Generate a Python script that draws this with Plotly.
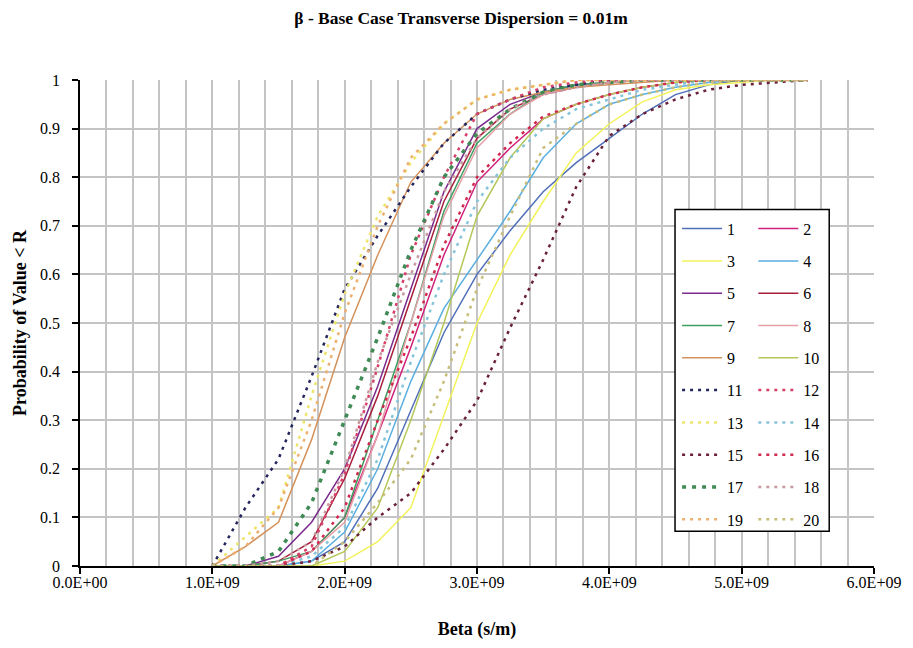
import plotly.graph_objects as go

# Beta values (s/m) shared by every realisation
BETA = [1.0e9, 1.25e9, 1.5e9, 1.75e9, 2.0e9, 2.25e9, 2.5e9, 2.75e9, 3.0e9, 3.25e9,
        3.5e9, 3.75e9, 4.0e9, 4.25e9, 4.5e9, 4.75e9, 5.0e9, 5.25e9, 5.5e9]

# Cumulative probability for each realisation
CDF_1 = [0, 0, 0, 0.01, 0.05, 0.16, 0.32, 0.48, 0.60, 0.69, 0.77, 0.83, 0.88, 0.93, 0.97, 0.99, 1, 1, 1]
CDF_2 = [0, 0, 0, 0.03, 0.10, 0.27, 0.45, 0.64, 0.79, 0.86, 0.92, 0.95, 0.97, 0.985, 0.995, 1, 1, 1, 1]
CDF_3 = [0, 0, 0, 0, 0.01, 0.05, 0.12, 0.31, 0.50, 0.64, 0.75, 0.85, 0.91, 0.955, 0.98, 0.99, 0.995, 1, 1]
CDF_4 = [0, 0, 0, 0.01, 0.07, 0.20, 0.38, 0.53, 0.63, 0.73, 0.84, 0.91, 0.95, 0.97, 0.985, 0.995, 1, 1, 1]
CDF_5 = [0, 0, 0.02, 0.09, 0.20, 0.37, 0.57, 0.77, 0.90, 0.95, 0.975, 0.99, 0.995, 1, 1, 1, 1, 1, 1]
CDF_6 = [0, 0, 0.01, 0.05, 0.18, 0.35, 0.55, 0.75, 0.88, 0.94, 0.97, 0.985, 0.995, 1, 1, 1, 1, 1, 1]
CDF_7 = [0, 0, 0.01, 0.03, 0.10, 0.30, 0.50, 0.73, 0.87, 0.93, 0.975, 0.99, 0.995, 1, 1, 1, 1, 1, 1]
CDF_8 = [0, 0, 0, 0.03, 0.09, 0.27, 0.50, 0.72, 0.86, 0.93, 0.97, 0.985, 0.995, 1, 1, 1, 1, 1, 1]
CDF_9 = [0, 0.04, 0.09, 0.26, 0.47, 0.64, 0.79, 0.87, 0.93, 0.96, 0.975, 0.985, 0.99, 0.995, 1, 1, 1, 1, 1]
CDF_10 = [0, 0, 0, 0, 0.03, 0.12, 0.30, 0.50, 0.72, 0.84, 0.92, 0.95, 0.97, 0.985, 0.995, 1, 1, 1, 1]
CDF_11 = [0, 0.12, 0.22, 0.39, 0.57, 0.68, 0.78, 0.87, 0.93, 0.96, 0.98, 0.99, 1, 1, 1, 1, 1, 1, 1]
CDF_12 = [0, 0, 0, 0.04, 0.19, 0.41, 0.64, 0.80, 0.93, 0.96, 0.985, 0.995, 1, 1, 1, 1, 1, 1, 1]
CDF_13 = [0, 0.06, 0.12, 0.35, 0.56, 0.72, 0.83, 0.91, 0.96, 0.98, 0.99, 1, 1, 1, 1, 1, 1, 1, 1]
CDF_14 = [0, 0, 0, 0.02, 0.08, 0.22, 0.42, 0.60, 0.75, 0.84, 0.90, 0.94, 0.96, 0.98, 0.99, 1, 1, 1, 1]
CDF_15 = [0, 0, 0, 0.01, 0.04, 0.10, 0.15, 0.24, 0.34, 0.49, 0.63, 0.78, 0.885, 0.93, 0.96, 0.98, 0.99, 0.995, 1]
CDF_16 = [0, 0, 0, 0.03, 0.12, 0.30, 0.47, 0.66, 0.80, 0.87, 0.925, 0.95, 0.97, 0.985, 0.995, 1, 1, 1, 1]
CDF_17 = [0, 0, 0.03, 0.13, 0.30, 0.47, 0.65, 0.80, 0.89, 0.94, 0.975, 0.99, 0.995, 1, 1, 1, 1, 1, 1]
CDF_18 = [0, 0, 0.01, 0.05, 0.20, 0.42, 0.60, 0.77, 0.88, 0.94, 0.97, 0.985, 0.995, 1, 1, 1, 1, 1, 1]
CDF_19 = [0, 0.04, 0.12, 0.30, 0.52, 0.70, 0.84, 0.91, 0.96, 0.98, 0.99, 1, 1, 1, 1, 1, 1, 1, 1]
CDF_20 = [0, 0, 0, 0, 0.05, 0.13, 0.22, 0.38, 0.57, 0.72, 0.86, 0.91, 0.95, 0.97, 0.985, 0.995, 1, 1, 1]

SERIES_NAMES = [str(i) for i in range(1, 21)]
SERIES_CDFS = [CDF_1, CDF_2, CDF_3, CDF_4, CDF_5, CDF_6, CDF_7, CDF_8, CDF_9, CDF_10,
               CDF_11, CDF_12, CDF_13, CDF_14, CDF_15, CDF_16, CDF_17, CDF_18, CDF_19, CDF_20]

X_TICKS = [0, 1e9, 2e9, 3e9, 4e9, 5e9, 6e9]
X_TICK_LABELS = ["0.0E+00", "1.0E+09", "2.0E+09", "3.0E+09", "4.0E+09", "5.0E+09", "6.0E+09"]

COLORS = ["#4F6FB8", "#D0207A", "#F2F25A", "#5AAEE0", "#7A2A8C",
          "#A81E3C", "#3E9E5E", "#E4A0A8", "#D4915A", "#B4C85A",
          "#25255E", "#D8406A", "#EDE46A", "#86C4DA", "#6A2038",
          "#D0284E", "#3F8A55", "#C89AA0", "#EEB070", "#C8BE7A"]

FONT = "Liberation Serif, DejaVu Serif, serif"
GRID = "#c4c4c4"

fig = go.Figure()
for i, (name, cdf) in enumerate(zip(SERIES_NAMES, SERIES_CDFS)):
    dotted = i >= 10
    if not dotted:
        line = dict(color=COLORS[i], width=1.5)
    elif name == "17":
        line = dict(color=COLORS[i], width=3.5, dash="4px,6px")
    else:
        line = dict(color=COLORS[i], width=2.5, dash="3px,5px")
    fig.add_trace(go.Scatter(
        x=BETA, y=cdf, mode="lines", name=name, line=line,
        legend="legend" if i % 2 == 0 else "legend2",
        legendgroup=name,
    ))

legend_common = dict(
    font=dict(family=FONT, size=16, color="black"),
    bgcolor="rgba(0,0,0,0)", borderwidth=0,
    yanchor="top", y=0.729, xanchor="left",
    tracegroupgap=8.5, itemwidth=40, traceorder="grouped",
)

fig.update_layout(
    width=913, height=648,
    margin=dict(l=80, r=35, t=80, b=80),
    paper_bgcolor="white", plot_bgcolor="white",
    font=dict(family=FONT, size=16, color="black"),
    title=dict(
        text="β - Base Case Transverse Dispersion = 0.01m",
        x=0.505, xanchor="center", y=0.973, yanchor="middle",
        font=dict(family=FONT, size=17.5, weight="bold", color="black"),
    ),
    xaxis=dict(
        range=[0, 6e9], tickvals=X_TICKS, ticktext=X_TICK_LABELS,
        showline=True, linecolor="black", linewidth=1.5,
        ticks="outside", ticklen=6, tickwidth=1.5, tickcolor="black",
        showgrid=True, gridcolor=GRID, gridwidth=1.5, zeroline=False,
        minor=dict(dtick=2e8, tick0=0, showgrid=True, gridcolor=GRID, gridwidth=1.5, ticks=""),
        tickfont=dict(family=FONT, size=16), ticklabelstandoff=-5,
        title=dict(text="Beta (s/m)", font=dict(family=FONT, size=18, weight="bold"), standoff=32),
    ),
    yaxis=dict(
        range=[0, 1], dtick=0.1, tick0=0,
        showline=True, linecolor="black", linewidth=1.5,
        ticks="outside", ticklen=6, tickwidth=1.5, tickcolor="black",
        showgrid=True, gridcolor=GRID, gridwidth=1.5, zeroline=False,
        tickfont=dict(family=FONT, size=16), ticklabelstandoff=9,
        title=dict(text="Probability of Value < R", font=dict(family=FONT, size=18, weight="bold"), standoff=9),
    ),
    legend=dict(x=0.752, **legend_common),
    legend2=dict(x=0.848, **legend_common),
    showlegend=True,
)

# Legend frame
fig.add_shape(type="rect", xref="paper", yref="paper",
              x0=0.7494, x1=0.9436, y0=0.0717, y1=0.7336,
              line=dict(color="black", width=1.5), fillcolor="white", layer="above")

fig.write_html("out.html")
